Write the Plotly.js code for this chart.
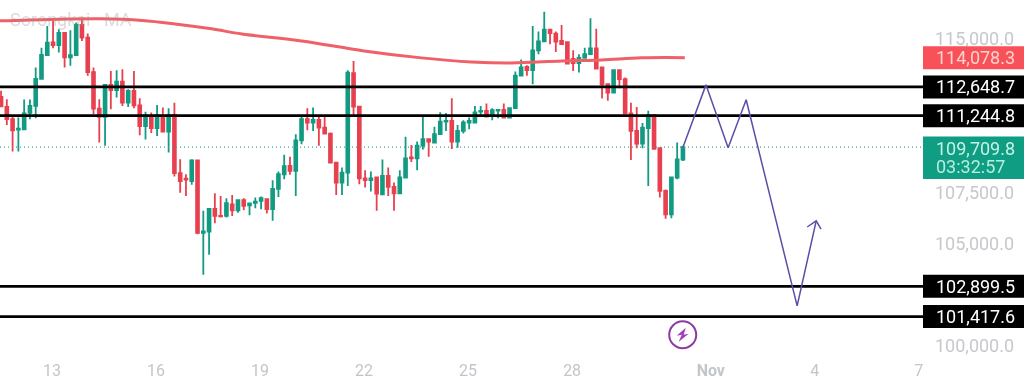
<!DOCTYPE html>
<html><head><meta charset="utf-8">
<script src="https://cdn.plot.ly/plotly-3.0.1.min.js"></script>
<style>html,body{margin:0;padding:0;background:#fff;overflow:hidden}#chart{width:1024px;height:384px;filter:blur(0.45px)}</style>
</head><body><div id="chart"></div>
<script>
// Candle values (4-hour candles, prices in USD)
const firstDay = 11.53;           // first candle, as day of October
const candlesPerDay = 6;
const opens = [112160,111670,111070,110560,110580,111380,111720,113040,114210,114830,114700,115290,114090,114200,115680,115060,113370,111590,111180,112750,
112490,112910,111880,112450,111750,110730,111200,110630,111250,110470,111280,108430,108170,108050,109060,105510,105580,106690,106340,106340,
106910,106620,107110,106860,106980,107080,107160,106670,107660,108380,108790,108540,110040,111070,110910,111040,110660,110370,108950,107970,
108460,113320,111690,108180,108090,108220,107400,108300,107760,107450,108220,109200,109160,109780,110090,109930,110340,110950,110990,109980,
110500,110910,110900,111440,111480,111230,111490,111530,111150,111610,113200,113630,113470,114440,114880,115450,115260,114900,114840,114020,
113810,114070,114250,114530,113600,112780,112370,113470,113030,111360,110500,109880,110630,111280,109650,107570,106420,108220,109100];
const highs = [112460,112050,111230,111150,112030,112030,113600,114570,115630,115880,115470,115310,115420,115800,116040,115260,113600,112050,112780,113430,
113470,113510,112540,113430,112100,111430,111400,111770,111640,111610,111880,109110,108380,109110,109100,106590,106720,107450,107320,107210,
107370,107160,107210,106990,107240,107290,107190,108090,108510,109330,109230,110340,111220,111610,111640,111180,111180,110420,108950,108710,
113470,113920,111720,108580,108510,108250,109100,108710,107970,108580,110210,109810,109980,111180,110110,110700,111410,111380,112100,110790,
111020,111150,111720,111720,111840,111610,111560,111840,111640,113400,113990,113710,115630,115360,116330,115470,115360,115680,114870,114440,
114250,114570,116010,115500,113630,112810,113480,113510,113110,111880,111670,110890,111480,111310,109680,107630,108250,109930,109770];
const lows = [111670,110790,109490,109490,110530,111070,111120,113040,114170,114540,114330,113600,113680,114170,114900,113190,111310,109930,109770,111560,
112130,111720,111670,111610,110290,110080,110400,110250,110420,109440,108270,107480,107320,107860,105450,103460,104440,105980,106260,106260,
106340,106500,106620,106370,106720,106670,106460,106100,107270,108140,108350,107320,109850,110530,110500,109770,110340,108900,107370,107370,
107810,111230,107890,107730,107530,106590,107370,107320,106590,107430,108220,108980,108580,109590,109230,109880,110300,110500,109620,109680,
110370,110580,110890,111180,111150,111020,111120,111120,111120,111590,113170,113200,112780,114250,114870,114740,114360,114700,113760,113430,
113350,114050,114210,113510,112080,111970,112370,112590,111310,109070,109650,109650,107810,109600,107240,106200,106230,108130,109030];
const closes = [111700,111070,110530,110610,111360,111720,113040,114210,114820,114690,115290,114090,114200,115680,115060,113370,111590,111180,112750,112490,
112910,111880,112450,111750,110730,111270,110630,111280,110470,111280,108430,108050,108120,109060,105510,105580,106690,106340,106320,106960,
106620,107110,106830,106950,107040,107210,106670,107660,108380,108770,108540,110040,111070,110910,111040,110660,110370,108950,107970,108460,
113350,111690,108180,108090,108180,107430,108300,107760,107450,108220,109160,109160,109780,110090,109980,110340,110950,110990,109980,110500,
110910,110990,111400,111480,111200,111510,111530,111150,111610,113200,113610,113470,114440,114880,115450,115280,114870,114740,113790,113810,
114070,114250,114530,113550,112780,112370,113470,113030,111360,110500,109880,110660,111280,109620,107570,106420,108220,109100,109710];

// Moving average
const maDays = [11.5,12.96,14.4,15.6,16.55,17.6,18.48,20.2,22.0,23.65,25.1,26.25,27.7,28.85,30.0,31.25];
const maValues = [115880,115950,115980,115900,115730,115490,115240,114900,114410,114070,113870,113820,113920,113970,114070,114078.3];

// Price levels and labels
const levels = [112648.7,111244.8,102899.5,101417.6];
const lastPrice = 109709.8;
const maLabel = 114078.3;
const countdown = '03:32:57';

// Drawn projection path (day, price)
const pathDays = [31.2,31.86,32.5,33.02,34.49,35.04];
const pathPrices = [109710,112750,109670,112020,101940,106100];
const headDays = [34.78,35.04,35.18];
const headPrices = [105800,106100,105700];

// Axes
const dayTicks = [13,16,19,22,25,28,32,35,38];
const dayLabels = ['13','16','19','22','25','28','<b>Nov</b>','4','7'];
const priceTicks = [100000,105000,107500,115000];
const signalDay = 31.19, signalPrice = 100530;
const watermark = ['Sorongkai','MA'];

const candleX = opens.map((_, i) => firstDay + i / candlesPerDay);
const xRange = [11.5, 38.12];
const fmt = v => v.toLocaleString('en-US',{minimumFractionDigits:1,maximumFractionDigits:1});

const RED='#e8404f', GREEN='#129b82', PURPLE='#5a4ea6', MAC='#ef6068', FONT='Roboto, Arial, sans-serif';

const traces = [
 {type:'scatter',mode:'lines',x:xRange,y:[lastPrice,lastPrice],line:{color:'#3aa893',width:1.2,dash:'1px 3px'},hoverinfo:'skip'},
 {type:'candlestick',x:candleX,open:opens,high:highs,low:lows,close:closes,whiskerwidth:0,
  increasing:{line:{color:GREEN,width:1.8},fillcolor:GREEN},
  decreasing:{line:{color:RED,width:1.8},fillcolor:RED},hoverinfo:'skip'},
 {type:'scatter',mode:'lines',x:maDays,y:maValues,line:{color:MAC,width:3,shape:'spline'},hoverinfo:'skip'},
 ...levels.map(v=>({type:'scatter',mode:'lines',x:xRange,y:[v,v],line:{color:'#000',width:2.8},hoverinfo:'skip'})),
 {type:'scatter',mode:'lines',x:pathDays,y:pathPrices,line:{color:PURPLE,width:1.5},hoverinfo:'skip'},
 {type:'scatter',mode:'lines',x:headDays,y:headPrices,line:{color:PURPLE,width:1.5},hoverinfo:'skip'}
];

const box=(y,h,color)=>({type:'rect',xref:'paper',x0:1,x1:1+101/923,yref:'y',ysizemode:'pixel',yanchor:y,y0:-h,y1:h,fillcolor:color,line:{width:0},layer:'above'});
const label=(y,text,color,shift)=>({xref:'paper',x:1,xshift:11,xanchor:'left',yref:'y',y:y,yshift:shift||0,text:text,showarrow:false,font:{family:FONT,size:18,color:color}});

const layout={
 width:1024,height:384,margin:{l:0,r:101,t:0,b:26,pad:0},paper_bgcolor:'#fff',plot_bgcolor:'#fff',showlegend:false,
 xaxis:{type:'linear',range:xRange,rangeslider:{visible:false},tickmode:'array',tickvals:dayTicks,ticktext:dayLabels,ticklen:0,showgrid:false,zeroline:false,showline:false,
  tickfont:{family:FONT,size:16,color:'#c2c5cb'},ticklabelstandoff:1},
 yaxis:{side:'right',range:[99394,116900],tickmode:'array',tickvals:priceTicks,tickformat:',.1f',ticklen:0,showgrid:false,zeroline:false,showline:false,
  tickfont:{family:FONT,size:18,color:'#c6c8cc'},ticklabelstandoff:11},
 shapes:[
  box(maLabel,11.5,'#f9515a'),
  ...levels.map(v=>box(v,11.5,'#000')),
  {type:'rect',xref:'paper',x0:1,x1:1+101/923,yref:'y',ysizemode:'pixel',yanchor:lastPrice,y0:10.5,y1:-32,fillcolor:'#0f9d83',line:{width:0},layer:'above'},
  {type:'circle',xref:'x',yref:'y',xsizemode:'pixel',ysizemode:'pixel',xanchor:signalDay,yanchor:signalPrice,x0:-13.5,x1:13.5,y0:-13.5,y1:13.5,line:{color:'#8e3aa6',width:2},fillcolor:'rgba(0,0,0,0)'},
  {type:'path',xref:'x',yref:'y',xsizemode:'pixel',ysizemode:'pixel',xanchor:signalDay,yanchor:signalPrice,path:'M 3 7 L -6 -1 L -1 0 L -4 -7 L 6 1 L 1 0 Z',fillcolor:'#a03fb8',line:{width:0}}
 ],
 annotations:[
  label(maLabel,fmt(maLabel),'#fbd3cc'),
  ...levels.map(v=>label(v,fmt(v),'#fff')),
  label(lastPrice,fmt(lastPrice),'#c4f3e4',-1),
  label(lastPrice,countdown,'#b5eedc',-19),
  {xref:'paper',yref:'paper',x:8/923,xanchor:'left',yanchor:'middle',y:(358-19)/358,text:watermark[0],showarrow:false,font:{family:FONT,size:18,color:'rgba(150,150,150,0.34)'}},
  {xref:'paper',yref:'paper',x:102/923,xanchor:'left',yanchor:'middle',y:(358-19)/358,text:watermark[1],showarrow:false,font:{family:FONT,size:18,color:'rgba(150,150,150,0.34)'}}
 ]
};
Plotly.newPlot('chart',traces,layout,{displayModeBar:false,staticPlot:true});
</script></body></html>
